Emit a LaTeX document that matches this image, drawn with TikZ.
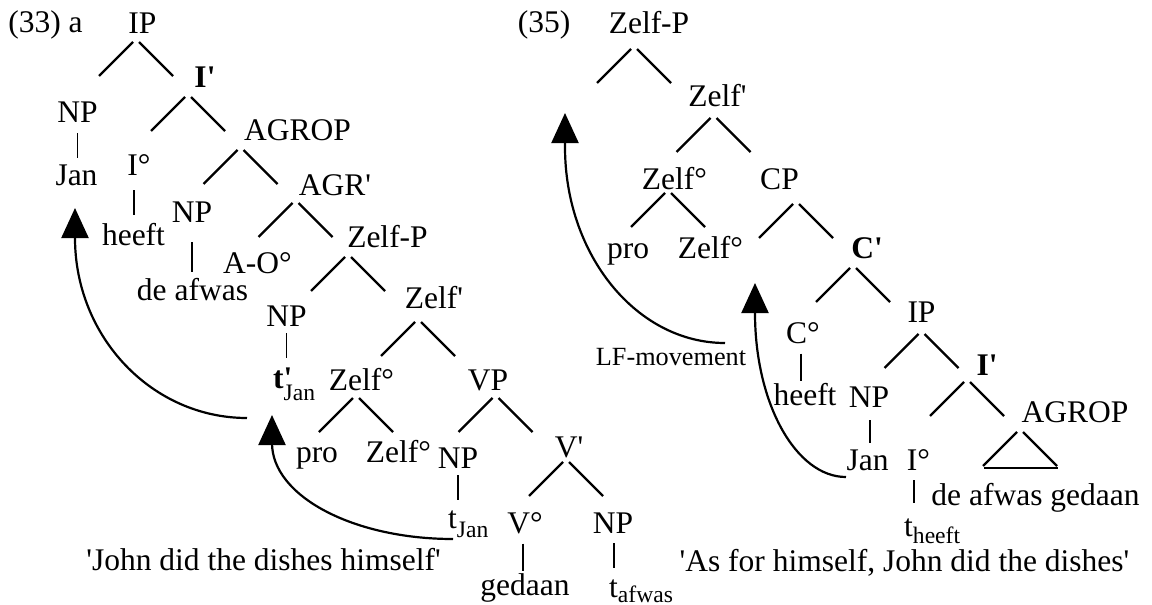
\documentclass[tikz,border=0pt]{standalone}
\usepackage{fontspec}
\setmainfont{Liberation Serif}
\usetikzlibrary{arrows.meta}
\newcommand\q{\textquotesingle}
\newcommand\subf{\fontsize{23.6pt}{26pt}\selectfont}
\begin{document}
\begin{tikzpicture}[x=1pt,y=-1pt,
  lab/.style={inner sep=0pt, anchor=base, font=\fontsize{31.5pt}{36pt}\selectfont},
  labw/.style={lab, anchor=base west},
  small/.style={inner sep=0pt, anchor=base, font=\fontsize{26.25pt}{30pt}\selectfont},
  branch/.style={line width=2.2pt},
  bar/.style={line width=1.1pt},
  mv/.style={line width=2.2pt, -{Triangle[length=30pt,width=27pt]}},
  fork/.pic={\draw[branch] (-3,0) -- (-37,34) (3,0) -- (37,34);}
]
\useasboundingbox (0,0) rectangle (1152,605);

% ---------- (33) a ----------
\node[lab] (ex33) at (45.5,32) {(33) a};
\node[lab] (ipA) at (142.5,33) {IP};
\node[lab] (ibarA) at (205,87) {\textbf{I\q}};
\node[lab] (npA) at (77.5,122) {NP};
\node[lab] (janA) at (76.5,185) {Jan};
\node[lab] (ioA) at (139,175) {I°};
\node[lab] (heeftA) at (133.5,245) {heeft};
\node[lab] (agropA) at (297.5,140) {AGROP};
\node[lab] (npB) at (192,222) {NP};
\node[lab] (deafwas) at (192.5,300) {de afwas};
\node[lab] (agrbar) at (335,195) {AGR\q};
\node[lab] (ao) at (257.5,273) {A-O°};
\node[lab] (zelfpA) at (387.5,247) {Zelf-P};
\node[lab] (npC) at (286.5,326) {NP};
\node[labw] (tjanA) at (273,388) {\textbf{t}\rlap{\textbf{\q}}\raisebox{-12pt}{\subf Jan}};
\node[lab] (zelfbarA) at (434,308) {Zelf\q};
\node[lab] (zelfoA) at (361.5,390) {Zelf°};
\node[lab] (vp) at (488,390) {VP};
\node[lab] (proA) at (317,462) {pro};
\node[lab] (zelfoB) at (398.5,462) {Zelf°};
\node[lab] (npD) at (458,468) {NP};
\node[labw] (tjanB) at (448,528) {t\raisebox{-9pt}{\subf Jan}};
\node[lab] (vbar) at (569,457) {V\q};
\node[lab] (vo) at (525,533) {V°};
\node[lab] (gedaan) at (525,595) {gedaan};
\node[lab] (npE) at (613,533) {NP};
\node[labw] (tafwas) at (609,597) {t\raisebox{-5pt}{\subf afwas}};
\node[lab] (capA) at (263.5,570) {\q John did the dishes himself\q};

\pic at (136,42) {fork};
\pic at (188,97) {fork};
\pic at (240.5,150) {fork};
\pic at (295.5,203) {fork};
\pic at (348,257) {fork};
\pic at (418,322) {fork};
\pic at (356,398) {fork};
\pic at (495.5,398) {fork};
\pic at (566,462) {fork};

\draw[bar] ([yshift=-11pt]npA.south) -- ++(0,25);
\draw[bar] ([xshift=-5pt,yshift=-15pt]ioA.south) -- ++(0,25);
\draw[bar] ([yshift=-20pt]npB.south) -- ++(0,30);
\draw[bar] ([yshift=-7pt]npC.south) -- ++(0,25);
\draw[bar] ([yshift=-7pt]npD.south) -- ++(0,25);
\draw[bar] ([xshift=-2pt,yshift=-10pt]vo.south) -- ++(0,27);
\draw[bar] ([xshift=1pt,yshift=-10pt]npE.south) -- ++(0,25);

\coordinate (m1s) at (247,418);
\coordinate (m1b) at (75,238);
\coordinate (m1t) at (75,208);
\draw[mv] (m1s) .. controls (152,418) and (75,337) .. (m1b) -- (m1t);
\coordinate (m2s) at (453,539);
\coordinate (m2b) at (272,443);
\coordinate (m2t) at (272,415);
\draw[mv] (m2s) .. controls (353,539) and (272,496) .. (m2b) -- (m2t);

% ---------- (35) ----------
\node[lab] (ex35) at (544,32) {(35)};
\node[lab] (zelfpB) at (649,33) {Zelf-P};
\node[lab] (zelfbarB) at (717.5,106) {Zelf\q};
\node[lab] (zelfoC) at (674.5,189) {Zelf°};
\node[lab] (cp) at (779.5,189) {CP};
\node[lab] (proB) at (628,258) {pro};
\node[lab] (zelfoD) at (710.5,258) {Zelf°};
\node[lab] (cbar) at (867,258) {\textbf{C\q}};
\node[lab] (co) at (803,343) {C°};
\node[lab] (heeftB) at (805,405) {heeft};
\node[lab] (ipB) at (921.5,322) {IP};
\node[lab] (ibarB) at (987,375) {\textbf{I\q}};
\node[lab] (npF) at (869,407) {NP};
\node[lab] (janB) at (867.5,470) {Jan};
\node[lab] (ioB) at (918.5,470) {I°};
\node[labw] (theeft) at (904,536) {t\raisebox{-7pt}{\subf heeft}};
\node[lab] (agropB) at (1075,422) {AGROP};
\node[lab] (dag) at (1035.5,505) {de afwas gedaan};
\node[small] (lf) at (671,365) {LF-movement};
\node[lab] (capB) at (904.5,571) {\q As for himself, John did the dishes\q};

\pic at (634,49) {fork};
\pic at (713.5,118) {fork};
\pic at (668,193) {fork};
\pic at (796,204) {fork};
\pic at (853,268) {fork};
\pic at (921.5,334) {fork};
\pic at (967,382) {fork};
\pic at (1020,432) {fork};
\draw[branch] (984,468) -- (1058,468);

\draw[bar] ([xshift=-2pt,yshift=-10pt]co.south) -- ++(0,27);
\draw[bar] ([xshift=1pt,yshift=-13pt]npF.south) -- ++(0,23);
\draw[bar] ([xshift=-4.5pt,yshift=-10pt]ioB.south) -- ++(0,23);

\coordinate (m3s) at (725,343);
\coordinate (m3b) at (565,147);
\coordinate (m3t) at (565,113);
\draw[mv] (m3s) .. controls (636.6,343) and (565,255) .. (m3b) -- (m3t);
\coordinate (m4s) at (846,477);
\coordinate (m4b) at (755,313);
\coordinate (m4t) at (755,283);
\draw[mv] (m4s) .. controls (796,477) and (755,403.6) .. (m4b) -- (m4t);
\end{tikzpicture}
\end{document}
